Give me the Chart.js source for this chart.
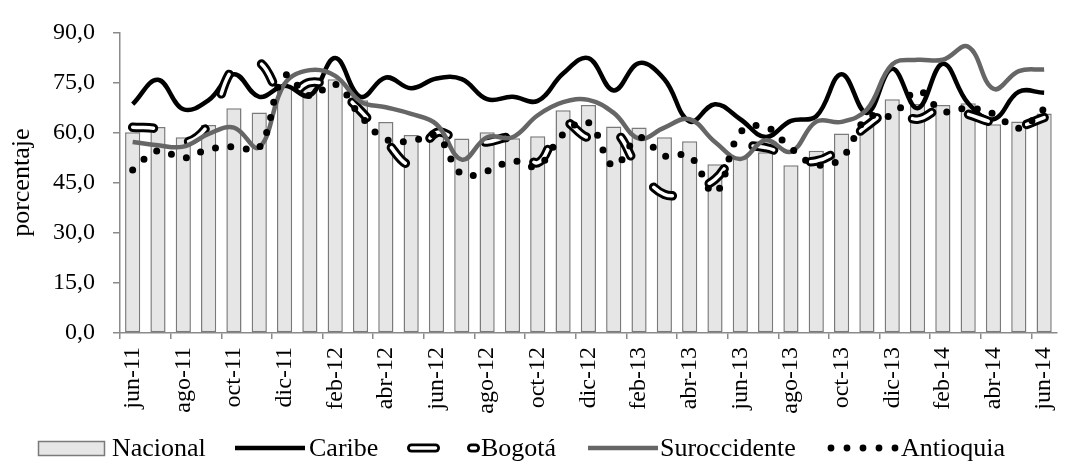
<!DOCTYPE html>
<html>
<head>
<meta charset="utf-8">
<script src="https://cdn.jsdelivr.net/npm/chart.js@4/dist/chart.umd.min.js"></script>
<style>
  html, body { margin: 0; padding: 0; background: #fff; }
  #wrap { position: relative; width: 1081px; height: 462px; overflow: hidden; }
  #c { position: absolute; left: 0; top: 0; }
  .lg { position: absolute; top: 433px; font-family: "Liberation Serif", "Times New Roman", serif; font-size: 26px; color: #000; line-height: 30px; white-space: nowrap; }
  .sym { position: absolute; }
</style>
</head>
<body>
<div id="wrap">
  <canvas id="c" width="1081" height="462"></canvas>
  <svg class="sym" style="left:0;top:0" width="1081" height="462">
    <rect x="38.5" y="441.5" width="66" height="14" fill="#e6e6e6" stroke="#7a7a7a" stroke-width="1.5"/>
    <line x1="235" y1="448" x2="305" y2="448" stroke="#000" stroke-width="4.5"/>
    <g stroke-linecap="round">
      <line x1="411.5" y1="448" x2="435.5" y2="448" stroke="#000" stroke-width="9"/>
      <line x1="411.5" y1="448" x2="435.5" y2="448" stroke="#fff" stroke-width="3.5"/>
      <line x1="471.5" y1="448" x2="475.5" y2="448" stroke="#000" stroke-width="9"/>
      <line x1="471.5" y1="448" x2="475.5" y2="448" stroke="#fff" stroke-width="3.5"/>
    </g>
    <line x1="588" y1="448" x2="658" y2="448" stroke="#666" stroke-width="4.5"/>
    <g fill="#000">
      <circle cx="831" cy="448" r="3.4"/><circle cx="847" cy="448" r="3.4"/><circle cx="863" cy="448" r="3.4"/><circle cx="879" cy="448" r="3.4"/><circle cx="895" cy="448" r="3.4"/>
    </g>
  </svg>
  <div class="lg" style="left:112px">Nacional</div>
  <div class="lg" style="left:309px">Caribe</div>
  <div class="lg" style="left:481px">Bogotá</div>
  <div class="lg" style="left:660px">Suroccidente</div>
  <div class="lg" style="left:901px">Antioquia</div>
</div>
<script>
const categories = ["jun-11","jul-11","ago-11","sep-11","oct-11","nov-11","dic-11","ene-12","feb-12","mar-12","abr-12","may-12","jun-12","jul-12","ago-12","sep-12","oct-12","nov-12","dic-12","ene-13","feb-13","mar-13","abr-13","may-13","jun-13","jul-13","ago-13","sep-13","oct-13","nov-13","dic-13","ene-14","feb-14","mar-14","abr-14","may-14","jun-14"];

const nacional = [60.1, 61.7, 58.6, 62.3, 67.3, 66.0, 73.7, 74.3, 76.0, 69.7, 63.2, 59.3, 60.1, 58.2, 60.1, 58.3, 58.9, 66.7, 68.3, 61.8, 61.5, 58.6, 57.4, 50.5, 52.4, 54.1, 50.2, 54.6, 59.7, 63.2, 70.0, 68.6, 68.3, 68.8, 62.5, 63.3, 65.7];

const caribe = [68.5, 75.8, 67.0, 69.7, 77.5, 70.7, 74.0, 71.1, 82.3, 70.7, 76.5, 73.3, 76.2, 76.0, 70.0, 70.7, 69.5, 77.7, 82.3, 72.6, 80.8, 76.0, 63.3, 68.5, 64.0, 58.7, 63.5, 64.9, 77.5, 65.9, 79.1, 67.3, 80.6, 68.8, 64.0, 72.2, 71.9];

const bogota = [61.6, 61.0, 57.0, 62.5, 79.5, 81.0, 70.5, 75.0, 73.0, 66.5, 57.5, 50.5, 60.0, 57.2, 57.2, 58.2, 51.0, 63.0, 58.5, 60.5, 49.0, 41.5, 42.5, 46.0, 55.0, 55.5, 52.5, 51.5, 55.5, 62.0, 66.5, 64.0, 67.5, 65.5, 63.0, 62.0, 64.5];

const suroccidente = [57.2, 56.2, 55.8, 59.6, 61.5, 55.6, 74.6, 78.7, 77.0, 69.3, 67.6, 65.6, 62.5, 51.9, 58.6, 58.6, 65.2, 69.1, 69.8, 65.9, 58.2, 61.5, 64.0, 57.2, 52.1, 57.7, 54.3, 63.3, 63.2, 66.9, 80.4, 81.8, 81.8, 85.7, 73.1, 78.4, 78.9];

const antioquia = [48.8, 54.6, 52.4, 55.0, 55.8, 55.5, 77.0, 71.0, 74.5, 65.0, 58.0, 57.5, 59.0, 47.5, 48.5, 51.5, 50.0, 59.5, 63.0, 50.0, 58.5, 53.0, 53.0, 42.0, 60.0, 61.7, 55.3, 50.4, 52.4, 64.4, 65.2, 72.5, 66.4, 67.3, 65.6, 61.3, 67.1];

const yTicks = [0, 15, 30, 45, 60, 75, 90];

const FONT = "'Liberation Serif', 'Times New Roman', serif";
const AXIS = '#8a8a8a';
const TENSION = 0.4;
const BOGOTA_DASH = [21, 39];

new Chart(document.getElementById('c'), {
  data: {
    labels: categories,
    datasets: [
      { type: 'bar', label: 'Nacional', data: nacional, order: 10,
        backgroundColor: '#e6e6e6', borderColor: '#7a7a7a', borderWidth: 1.5,
        borderSkipped: false, barPercentage: 0.6, categoryPercentage: 1 },
      { type: 'line', label: 'Caribe', data: caribe, order: 5,
        borderColor: '#000', borderWidth: 4.5, tension: TENSION, pointRadius: 0, fill: false },
      { type: 'line', label: 'Bogotá', data: bogota, order: 4,
        borderColor: '#000', borderWidth: 9.5, borderDash: BOGOTA_DASH, borderCapStyle: 'round',
        tension: TENSION, pointRadius: 0, fill: false },
      { type: 'line', label: 'Bogotá-inner', data: bogota, order: 3,
        borderColor: '#fff', borderWidth: 3.5, borderDash: BOGOTA_DASH, borderCapStyle: 'round',
        tension: TENSION, pointRadius: 0, fill: false },
      { type: 'line', label: 'Suroccidente', data: suroccidente, order: 2,
        borderColor: '#666666', borderWidth: 4.5, tension: TENSION, pointRadius: 0, fill: false },
      { type: 'line', label: 'Antioquia', data: antioquia, order: 1,
        borderColor: '#000', borderWidth: 7, borderDash: [0, 15.5], borderCapStyle: 'round',
        tension: TENSION, pointRadius: 0, fill: false }
    ]
  },
  options: {
    responsive: false,
    animation: false,
    devicePixelRatio: 1,
    layout: { padding: { left: 0, right: 5, top: 22, bottom: 49 } },
    plugins: { legend: { display: false }, tooltip: { enabled: false } },
    scales: {
      x: {
        offset: true,
        grid: {
          offset: true, drawOnChartArea: false, drawTicks: true, tickLength: 6, lineWidth: 1.5,
          color: (ctx) => (ctx.index % 2 === 0 && ctx.index < categories.length) ? AXIS : 'rgba(0,0,0,0)'
        },
        border: { display: true, color: AXIS, width: 1.5 },
        ticks: {
          autoSkip: false, maxRotation: 90, minRotation: 90, padding: 8,
          color: '#000', font: { family: FONT, size: 24 },
          callback: function (v, i) { return i % 2 === 0 ? categories[i] : ''; }
        },
        afterFit: (s) => { s.height = 80; }
      },
      y: {
        min: 0, max: 90,
        afterBuildTicks: (s) => { s.ticks = yTicks.map(v => ({ value: v })); },
        grid: { drawOnChartArea: false, drawTicks: true, tickLength: 7, color: AXIS, lineWidth: 1.5 },
        border: { display: true, color: AXIS, width: 1.5 },
        ticks: {
          padding: 18, color: '#000', font: { family: FONT, size: 24 },
          callback: (v) => Number(v).toFixed(1).replace('.', ',')
        },
        title: { display: true, text: 'porcentaje', color: '#000',
          font: { family: FONT, size: 26 }, padding: { top: 7, bottom: 0 } },
        afterFit: (s) => { s.width = 120; }
      }
    }
  }
});
</script>
</body>
</html>
